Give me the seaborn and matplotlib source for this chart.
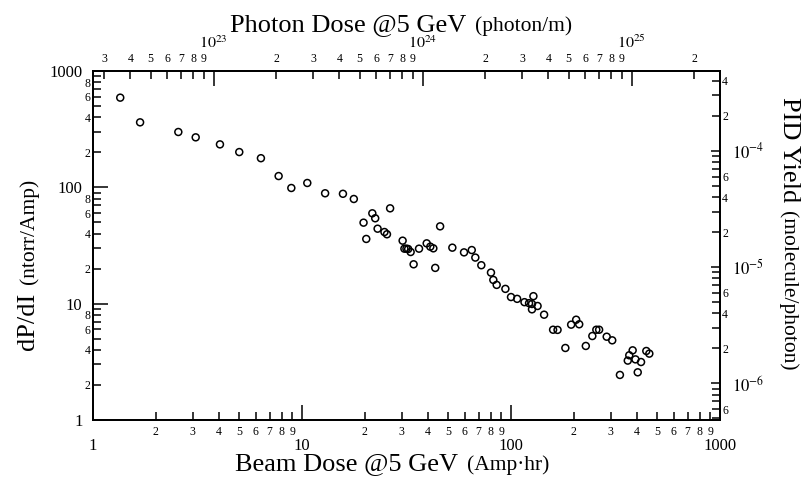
import numpy as np
import pandas as pd
import matplotlib
matplotlib.use('Agg')
import matplotlib.pyplot as plt
import matplotlib.ticker as mticker
import seaborn as sns

# data (beam dose in Amp*hr, dP/dI in ntorr/Amp)
beam_dose = [1.35, 1.68, 2.56, 3.10, 4.05, 5.01, 6.36, 7.73, 8.89, 10.6,
             12.9, 15.7, 17.7, 19.7, 20.3, 21.7, 22.4, 23.0, 24.8, 25.5,
             26.4, 30.3, 30.9, 31.6, 32.2, 33.1, 34.2, 36.3, 39.5, 41.1,
             42.5, 43.4, 45.8, 52.4, 59.6, 64.9, 67.5, 72.1, 80.2, 82.3,
             85.4, 94.0, 100, 107, 116, 122, 128, 126, 126, 134,
             144, 159, 167, 182, 194, 205, 212, 228, 245, 256,
             264, 287, 305, 332, 362, 368, 382, 394, 404, 419,
             444, 459]
dp_di = [590, 362, 299, 269, 234, 201, 178, 125, 98.7, 109,
         88.9, 88, 79.4, 49.7, 36.0, 59.8, 54.2, 44.1, 41.3, 39.5,
         66, 34.8, 29.7, 29.7, 29.5, 27.8, 21.8, 29.7, 33.0, 30.9,
         29.9, 20.3, 46.2, 30.3, 27.6, 28.9, 24.9, 21.4, 18.5, 16.0,
         14.5, 13.4, 11.4, 11.0, 10.3, 10.1, 11.6, 9.94, 8.94, 9.55,
         8.04, 5.97, 5.95, 4.16, 6.6, 7.28, 6.65, 4.33, 5.27, 5.97,
         5.97, 5.2, 4.84, 2.44, 3.24, 3.6, 3.97, 3.32, 2.57, 3.15,
         3.92, 3.72]

# conversion factors for the secondary axes
photon_per_amphr = 2.65e22   # photon/m per Amp*hr
yield_per_dpdi = 4.85e-7     # molecule/photon per ntorr/Amp

df = pd.DataFrame({'dose': beam_dose, 'dpdi': dp_di})

sns.set_style('ticks', rc={'axes.edgecolor': 'black', 'text.color': 'black',
                           'xtick.color': 'black', 'ytick.color': 'black',
                           'axes.labelcolor': 'black'})
plt.rcParams['font.family'] = ['Liberation Serif', 'DejaVu Serif']
plt.rcParams['mathtext.fontset'] = 'stix'

W, H = 804, 483
fig = plt.figure(figsize=(W / 100, H / 100), dpi=100)
ax = fig.add_axes([93 / W, 63 / H, 627 / W, 349 / H])

sns.scatterplot(data=df, x='dose', y='dpdi', ax=ax, marker='o', s=25,
                facecolors='none', edgecolor='black', linewidth=1.1)
ax.set_xscale('log')
ax.set_yscale('log')
ax.set_xlim(1, 1000)
ax.set_ylim(1, 1000)
ax.set_xlabel('')
ax.set_ylabel('')


def mantissa_fmt(keep):
    def f(v, pos):
        m = int(round(v / 10 ** np.floor(np.log10(v) + 1e-9)))
        return str(m) if m in keep else ''
    return mticker.FuncFormatter(f)


def power_fmt(v, pos):
    return r'$10^{%d}$' % int(round(np.log10(v)))


sub = np.arange(2, 10)

# bottom / left
ax.xaxis.set_major_locator(mticker.LogLocator(base=10))
ax.xaxis.set_minor_locator(mticker.LogLocator(base=10, subs=sub, numticks=20))
ax.xaxis.set_major_formatter(mticker.FuncFormatter(lambda v, p: f'{v:g}'))
ax.xaxis.set_minor_formatter(mantissa_fmt(range(2, 10)))
ax.yaxis.set_major_locator(mticker.LogLocator(base=10))
ax.yaxis.set_minor_locator(mticker.LogLocator(base=10, subs=sub, numticks=20))
ax.yaxis.set_major_formatter(mticker.FuncFormatter(lambda v, p: f'{v:g}'))
ax.yaxis.set_minor_formatter(mantissa_fmt([2, 4, 6, 8]))

ax.tick_params(which='both', direction='in', top=False, right=False, width=1.1)
ax.tick_params(which='major', length=10.8)
ax.tick_params(which='minor', length=5.8)
ax.tick_params(axis='x', which='major', pad=13, labelsize=12)
ax.tick_params(axis='x', which='minor', pad=4.5, labelsize=8.5)
ax.tick_params(axis='y', which='major', pad=7.5, labelsize=12)
ax.tick_params(axis='y', which='minor', pad=2, labelsize=8.5)

# top axis: photon dose
axt = ax.twiny()
axt.set_xscale('log')
axt.set_xlim(photon_per_amphr * 1, photon_per_amphr * 1000)
axt.xaxis.set_major_locator(mticker.LogLocator(base=10))
axt.xaxis.set_minor_locator(mticker.LogLocator(base=10, subs=sub, numticks=20))
axt.xaxis.set_major_formatter(mticker.FuncFormatter(power_fmt))
axt.xaxis.set_minor_formatter(mantissa_fmt(range(2, 10)))
axt.tick_params(axis='x', which='both', direction='in', top=True, bottom=False,
                labeltop=True, labelbottom=False, width=1.1)
axt.tick_params(axis='x', which='major', length=10.8, pad=13.5, labelsize=11.5)
axt.tick_params(axis='x', which='minor', length=5.8, pad=4, labelsize=8.5)

# right axis: PID yield
axr = ax.twinx()
axr.set_yscale('log')
axr.set_ylim(yield_per_dpdi * 1, yield_per_dpdi * 1000)
axr.yaxis.set_major_locator(mticker.LogLocator(base=10))
axr.yaxis.set_minor_locator(mticker.LogLocator(base=10, subs=sub, numticks=20))
axr.yaxis.set_major_formatter(mticker.FuncFormatter(power_fmt))
axr.yaxis.set_minor_formatter(mantissa_fmt([2, 4, 6]))
axr.tick_params(axis='y', which='both', direction='in', right=True, left=False,
                labelright=True, labelleft=False, width=1.1)
axr.tick_params(axis='y', which='major', length=6.5, pad=8.5, labelsize=12)
axr.tick_params(axis='y', which='minor', length=5.5, pad=1.5, labelsize=8.5)

for a in (ax, axt, axr):
    for sp in a.spines.values():
        sp.set_linewidth(1.2)
        sp.set_color('black')

# axis titles with a large and a small part
renderer = fig.canvas.get_renderer()


def two_size_label(x, y, big, small, rotation=0, gap=9):
    # x, y in pixels from the top-left corner, anchor at start of baseline
    t1 = fig.text(x / W, 1 - y / H, big, fontsize=19, rotation=rotation,
                  rotation_mode='anchor', ha='left', va='baseline')
    bb = t1.get_window_extent(renderer)
    if rotation == 0:
        nx, ny = bb.x1 + gap, H - y
    elif rotation == 90:
        nx, ny = x, bb.y1 + gap
    else:
        nx, ny = x, bb.y0 - gap
    fig.text(nx / W, ny / H, small, fontsize=15.5, rotation=rotation,
             rotation_mode='anchor', ha='left', va='baseline')


two_size_label(230, 31, 'Photon Dose @5 GeV', '(photon/m)')
two_size_label(235, 470, 'Beam Dose @5 GeV', '(Amp·hr)')
two_size_label(34, 350, 'dP/dI', '(ntorr/Amp)', rotation=90)
two_size_label(783, 97, 'PID Yield', '(molecule/photon)', rotation=-90)

fig.savefig('out.png', dpi=100)
